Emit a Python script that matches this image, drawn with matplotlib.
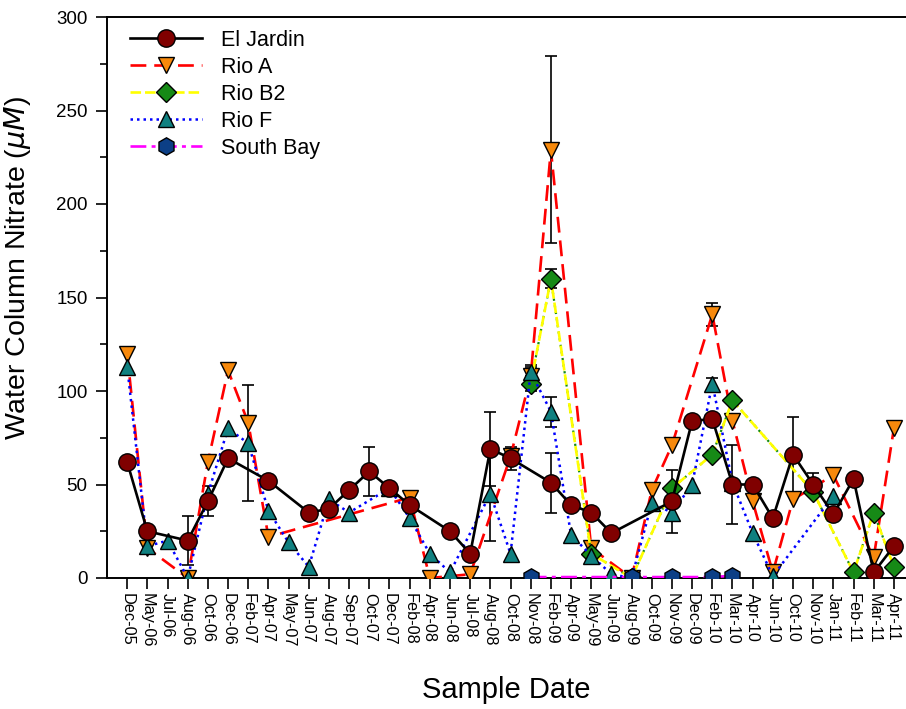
import numpy as np
import matplotlib
matplotlib.use('Agg')
import matplotlib.pyplot as plt
from matplotlib.ticker import MultipleLocator

plt.rcParams['font.family'] = ['Liberation Sans', 'DejaVu Sans']

# ── Data ──────────────────────────────────────────────────────────────
dates = ['Dec-05', 'May-06', 'Jul-06', 'Aug-06', 'Oct-06', 'Dec-06', 'Feb-07',
         'Apr-07', 'May-07', 'Jun-07', 'Aug-07', 'Sep-07', 'Oct-07', 'Dec-07',
         'Feb-08', 'Apr-08', 'Jun-08', 'Jul-08', 'Aug-08', 'Oct-08', 'Nov-08',
         'Feb-09', 'Apr-09', 'May-09', 'Jun-09', 'Aug-09', 'Oct-09', 'Nov-09',
         'Dec-09', 'Feb-10', 'Mar-10', 'Apr-10', 'Jun-10', 'Oct-10', 'Nov-10',
         'Jan-11', 'Feb-11', 'Mar-11', 'Apr-11']

el_jardin = [62, 25, None, 20, 41, 64, None, 52, None, 35, 37, 47, 57, 48,
             39, None, 25, 13, 69, 64, None, 51, 39, 35, 24, None, None, 41,
             84, 85, 50, 50, 32, 66, 50, 34, 53, 3, 17]
el_jardin_err = {3: 13, 4: 8, 12: 13, 18: 20, 19: 6, 21: 16, 27: 17,
                 30: 21, 33: 20, 34: 6}

rio_a = [120, 16, None, 0, 62, 111, 83, 22, None, None, None, None, None,
         None, 43, 0, None, 2, None, 65, 108, 229, None, 16, None, 0, 47, 71,
         None, 141, 84, 41, 3, 42, None, 55, None, 11, 80]
rio_a_err = {20: 5, 21: 50, 29: 6}

rio_b2 = [None] * 20 + [104, 160, None, 13, None, 0, None, 48, None, 66, 95,
                        None, None, None, 46, None, 3, 35, 6]
rio_b2_err = {20: 4, 21: 5}

rio_f = [113, 17, 20, 0, 45, 80, 72, 36, 19, 6, 42, 35, None, 48, 32, 13, 3,
         None, 45, 13, 110, 89, 23, 12, 2, 0, 40, 35, 50, 104, 51, 24, 1,
         None, None, 44, None, None, None]
rio_f_err = {6: 31, 18: 25, 20: 4, 21: 8, 29: 3}

south_bay = [None] * 20 + [0.5, None, None, None, None, 0.5, None, 0.5, None,
                           0.5, 1.2, None, None, None, None, None, None, None,
                           None]

# ── Style ─────────────────────────────────────────────────────────────
MAROON = '#800000'
ORANGE = '#f7890c'
GREEN  = '#168a16'
TEAL   = '#108080'
NAVY   = '#0c3f86'


def valid(vals):
    idx = [i for i, v in enumerate(vals) if v is not None]
    return np.array(idx), np.array([vals[i] for i in idx], dtype=float)


def errbars(ax, vals, errs):
    for i, e in errs.items():
        ax.errorbar(i, vals[i], yerr=e, fmt='none', ecolor='black',
                    elinewidth=1.2, capsize=4.3, capthick=1.2, zorder=2)


fig = plt.figure(figsize=(9.06, 7.09), dpi=100)
ax = fig.add_axes([107 / 906, 131 / 709, 799 / 906, 561 / 709])

mk = dict(markeredgecolor='black', markeredgewidth=1.0)

# El Jardin
x, y = valid(el_jardin)
errbars(ax, el_jardin, el_jardin_err)
ax.plot(x, y, '-', color='black', lw=1.9, marker='o', ms=12.5,
        markerfacecolor=MAROON, label='El Jardin', zorder=4, **mk)

# Rio A
x, y = valid(rio_a)
errbars(ax, rio_a, rio_a_err)
ax.plot(x, y, color='red', lw=1.9, dashes=(6, 3), marker='v', ms=11.5,
        markerfacecolor=ORANGE, label='Rio A', zorder=3, **mk)

# Rio B2 (yellow dashes with green showing through the gaps)
x, y = valid(rio_b2)
errbars(ax, rio_b2, rio_b2_err)
ax.plot(x, y, color=GREEN, lw=1.6, ls=(0, (1, 2)), zorder=3)
ax.plot(x, y, color='#ffff00', lw=1.9, dashes=(4, 1.5), marker='D', ms=10.5,
        markerfacecolor=GREEN, label='Rio B2', zorder=3, **mk)

# Rio F
x, y = valid(rio_f)
errbars(ax, rio_f, rio_f_err)
ax.plot(x, y, color='blue', lw=1.8, ls=(0, (1, 1.6)), marker='^', ms=11.5,
        markerfacecolor=TEAL, label='Rio F', zorder=3, **mk)

# South Bay
x, y = valid(south_bay)
ax.plot(x, y, color='magenta', lw=1.9, dashes=(6, 2, 1.5, 2), marker='h',
        ms=12.5, markerfacecolor=NAVY, label='South Bay', zorder=3, **mk)

# ── Axes ──────────────────────────────────────────────────────────────
ax.set_xlim(-1, 38.6)
ax.set_ylim(0, 300)
ax.set_xticks(range(len(dates)))
ax.set_xticklabels(dates, rotation=270, fontsize=11.7)
ax.yaxis.set_major_locator(MultipleLocator(50))
ax.yaxis.set_minor_locator(MultipleLocator(25))
ax.tick_params(axis='y', which='major', direction='out', length=8,
               width=1.2, labelsize=13.5, pad=6)
ax.tick_params(axis='y', which='minor', direction='out', length=5, width=1.2)
ax.tick_params(axis='x', direction='out', length=8, width=1.2, pad=3)
for s in ['left', 'bottom', 'top']:
    ax.spines[s].set_linewidth(1.4)
ax.spines['right'].set_visible(False)

ax.set_ylabel(r'Water Column Nitrate ($\mu$$\it{M}$)', fontsize=20.5)
ax.yaxis.set_label_coords(-0.092, 0.553)
ax.set_xlabel('Sample Date', fontsize=21)
ax.xaxis.set_label_coords(0.5, -0.175)

ax.legend(loc='upper left', frameon=False, fontsize=15.5, handlelength=3.35,
          labelspacing=0.28, handletextpad=0.9, borderaxespad=0.0,
          bbox_to_anchor=(0.018, 0.993))

fig.savefig('out.png', dpi=100)
